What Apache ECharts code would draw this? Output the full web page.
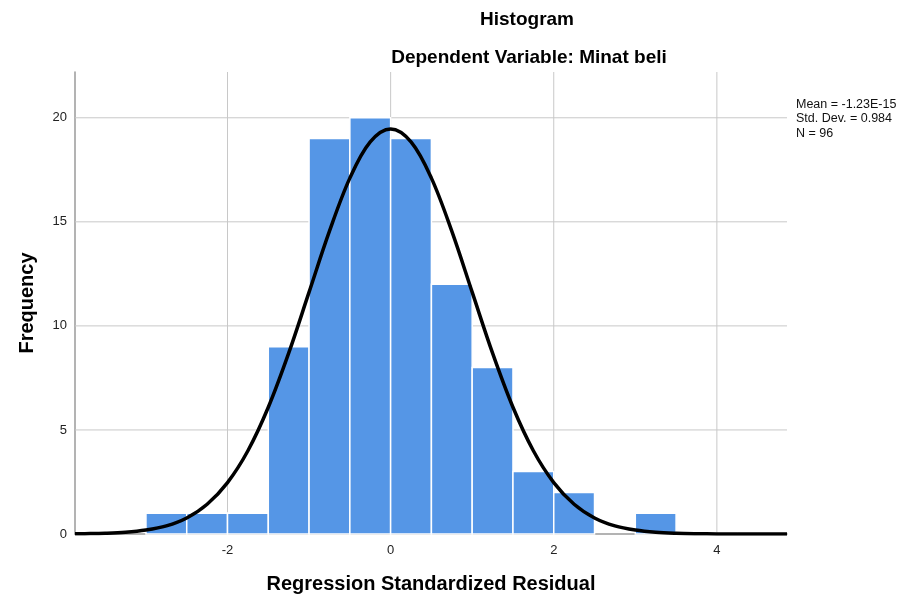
<!DOCTYPE html>
<html><head><meta charset="utf-8">
<script src="https://cdn.jsdelivr.net/npm/echarts@6/dist/echarts.min.js"></script>
<style>html,body{margin:0;padding:0;background:#fff}#c{width:909px;height:599px}</style>
</head><body><div id="c"></div>
<script>
// Histogram bins: [start, end]
const binStarts = [-3.0, -2.5, -2.0, -1.5, -1.0, -0.5, 0.0, 0.5, 1.0, 1.5, 2.0, 3.0];
const binEnds   = [-2.5, -2.0, -1.5, -1.0, -0.5, 0.0, 0.5, 1.0, 1.5, 2.0, 2.5, 3.5];
const counts    = [1, 1, 1, 9, 19, 20, 19, 12, 8, 3, 2, 1];
// Normal curve
const curveX = [-3.87,-3.75,-3.5,-3.25,-3.0,-2.75,-2.5,-2.25,-2.0,-1.75,-1.5,-1.25,-1.0,-0.75,-0.5,-0.25,0,0.25,0.5,0.75,1.0,1.25,1.5,1.75,2.0,2.25,2.5,2.75,3.0,3.25,3.5,3.75,4.0,4.25,4.5,4.86];
const curveY = [0.008,0.014,0.035,0.083,0.19,0.39,0.77,1.43,2.47,4.0,6.09,8.69,11.62,14.55,17.1,18.84,19.46,18.84,17.1,14.55,11.62,8.69,6.09,4.0,2.47,1.43,0.77,0.39,0.19,0.083,0.035,0.014,0.005,0.002,0.0005,0.0];
const xTickLabels = [-2, 0, 2, 4];
const yTicks = [0, 5, 10, 15, 20];
const yGrid = [5, 10, 15, 20];
const statsLines = ['Mean = -1.23E-15', 'Std. Dev. = 0.984', 'N = 96'];

const chart = echarts.init(document.getElementById('c'), null, {renderer: 'canvas'});
const FONT = '"Liberation Sans", Arial, sans-serif';
const barData = binStarts.map((s, i) => [s, binEnds[i], counts[i]]);
const xMin = -3.87, xMax = 4.86, yMax = 22.2;

chart.setOption({
  animation: false,
  grid: {left: 75, right: 122, top: 72, bottom: 65},
  title: [
    {text: 'Histogram', left: 522, top: 5, textAlign: 'center',
     textStyle: {fontFamily: FONT, fontSize: 19, fontWeight: 'bold', color: '#000'}},
    {text: 'Dependent Variable: Minat beli', left: 524, top: 43, textAlign: 'center',
     textStyle: {fontFamily: FONT, fontSize: 19, fontWeight: 'bold', color: '#000'}}
  ],
  graphic: [{
    type: 'text', left: 796, top: 97,
    style: {text: statsLines.join('\n'), fontFamily: FONT, fontSize: 12.5, lineHeight: 14.5, fill: '#111'}
  }],
  xAxis: {
    type: 'value', min: xMin, max: xMax,
    name: 'Regression Standardized Residual', nameLocation: 'middle', nameGap: 40,
    nameTextStyle: {fontFamily: FONT, fontSize: 20, fontWeight: 'bold', color: '#000'},
    axisLine: {show: true, onZero: false, lineStyle: {color: '#9a9a9a', width: 1.5}},
    axisTick: {show: false},
    splitLine: {show: false},
    axisLabel: {customValues: xTickLabels, fontFamily: FONT, fontSize: 13, color: '#222', margin: 10}
  },
  yAxis: {
    type: 'value', min: 0, max: yMax, interval: 5,
    name: 'Frequency', nameLocation: 'middle', nameGap: 38, nameRotate: 90,
    nameTextStyle: {fontFamily: FONT, fontSize: 20, fontWeight: 'bold', color: '#000'},
    axisLine: {show: true, onZero: false, lineStyle: {color: '#9a9a9a', width: 1.5}},
    axisTick: {show: false},
    splitLine: {show: false},
    axisLabel: {customValues: yTicks, fontFamily: FONT, fontSize: 13, color: '#222', margin: 8}
  },
  series: [
    {
      type: 'custom', z: 1, silent: true,
      data: xTickLabels.map(v => [v]),
      encode: {x: 0},
      renderItem: function (params, api) {
        const p0 = api.coord([api.value(0), 0]);
        const p1 = api.coord([api.value(0), yMax]);
        return {type: 'line', shape: {x1: p0[0], y1: p0[1], x2: p1[0], y2: p1[1]},
          style: {stroke: '#c8c8c8', lineWidth: 1}};
      }
    },
    {
      type: 'custom', z: 1, silent: true,
      data: yGrid.map(v => [v]),
      encode: {y: 0},
      renderItem: function (params, api) {
        const p0 = api.coord([xMin, api.value(0)]);
        const p1 = api.coord([xMax, api.value(0)]);
        return {type: 'line', shape: {x1: p0[0], y1: p0[1], x2: p1[0], y2: p1[1]},
          style: {stroke: '#c8c8c8', lineWidth: 1}};
      }
    },
    {
      type: 'custom', z: 2, silent: true,
      data: barData,
      encode: {x: [0, 1], y: 2},
      renderItem: function (params, api) {
        const a = api.coord([api.value(0), api.value(2)]);
        const b = api.coord([api.value(1), 0]);
        return {type: 'rect', shape: {x: a[0], y: a[1], width: b[0] - a[0], height: b[1] - a[1]},
          style: {fill: '#5596e6', stroke: '#ffffff', lineWidth: 1.5}};
      }
    },
    {
      type: 'line', z: 3, silent: true, smooth: 0.35, showSymbol: false,
      data: curveX.map((x, i) => [x, curveY[i]]),
      lineStyle: {color: '#000', width: 3.5}
    }
  ]
});
</script></body></html>
